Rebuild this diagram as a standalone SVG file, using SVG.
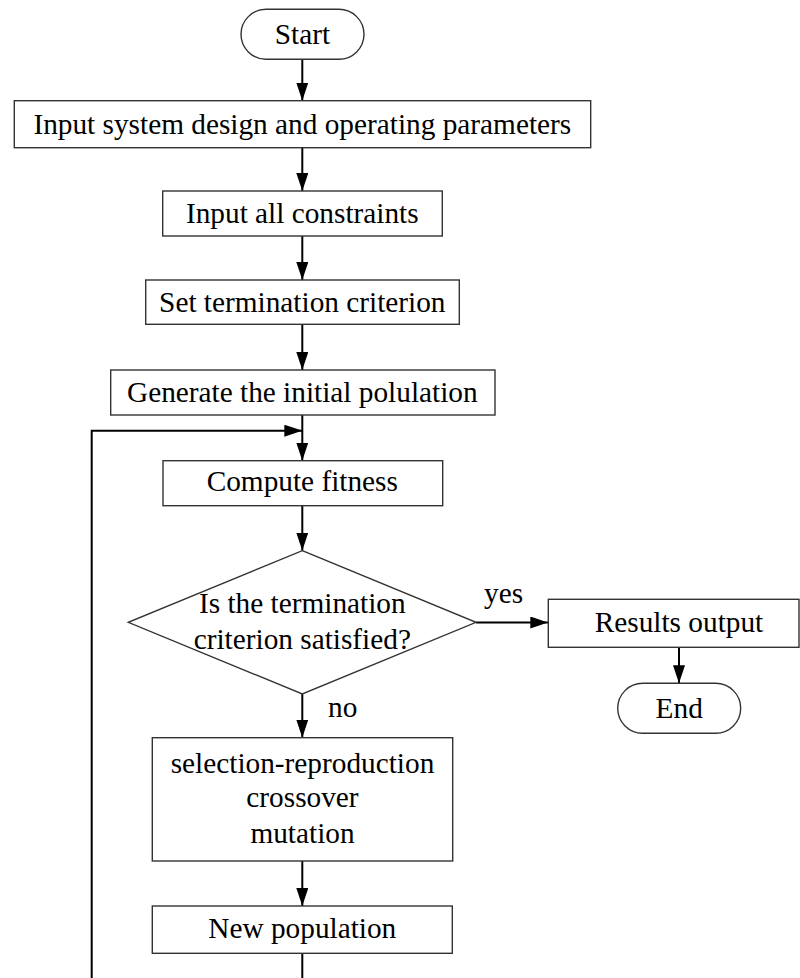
<svg xmlns="http://www.w3.org/2000/svg" width="800" height="978" viewBox="0 0 800 978">
<defs>
<style>
.box{fill:#fff;stroke:#333;stroke-width:1.4}
.t{font-family:"Liberation Serif","Times New Roman",serif;font-size:29.3px;fill:#000;text-anchor:middle}
.l{font-family:"Liberation Serif","Times New Roman",serif;font-size:29.3px;fill:#000}
.c{fill:none;stroke:#000;stroke-width:2}
</style>
<marker id="ah" markerUnits="userSpaceOnUse" markerWidth="18" markerHeight="12" refX="18" refY="6" orient="auto">
<path d="M0,0 L18,6 L0,12 z" fill="#000"/>
</marker>
</defs>
<rect width="800" height="978" fill="#fff"/>
<g id="connectors">
<line class="c" x1="302.3" y1="59.3" x2="302.3" y2="100.7" marker-end="url(#ah)"/>
<line class="c" x1="302.3" y1="147.7" x2="302.3" y2="191" marker-end="url(#ah)"/>
<line class="c" x1="302.3" y1="236" x2="302.3" y2="280" marker-end="url(#ah)"/>
<line class="c" x1="302.3" y1="324.3" x2="302.3" y2="370" marker-end="url(#ah)"/>
<line class="c" x1="302.3" y1="415" x2="302.3" y2="460.7" marker-end="url(#ah)"/>
<line class="c" x1="302.3" y1="505.7" x2="302.3" y2="550.7" marker-end="url(#ah)"/>
<line class="c" x1="476" y1="622.5" x2="548.3" y2="622.5" marker-end="url(#ah)"/>
<line class="c" x1="679" y1="647.3" x2="679" y2="683.3" marker-end="url(#ah)"/>
<line class="c" x1="302.3" y1="694" x2="302.3" y2="737.7" marker-end="url(#ah)"/>
<line class="c" x1="302.3" y1="861" x2="302.3" y2="906" marker-end="url(#ah)"/>
<polyline class="c" points="302.3,953.3 302.3,995 91.7,995 91.7,430.7 302.3,430.7" marker-end="url(#ah)"/>
<text class="l" x="484" y="603.3">yes</text>
<text class="l" x="328" y="716.7">no</text>
</g>
<g id="start">
<rect class="box" x="241" y="9.3" width="123" height="50" rx="25" ry="25"/>
<text class="t" x="302.5" y="43.5">Start</text>
</g>
<g id="input-params">
<rect class="box" x="14.3" y="100.7" width="576.4" height="47"/>
<text class="t" x="302.3" y="133.5">Input system design and operating parameters</text>
</g>
<g id="input-constraints">
<rect class="box" x="162.7" y="191" width="279.6" height="45"/>
<text class="t" x="302.3" y="223">Input all constraints</text>
</g>
<g id="set-termination">
<rect class="box" x="145.7" y="280" width="313.6" height="44.3"/>
<text class="t" x="302.3" y="311.5">Set termination criterion</text>
</g>
<g id="generate">
<rect class="box" x="110.7" y="370" width="384.3" height="45"/>
<text class="t" x="302.3" y="401.7">Generate the initial polulation</text>
</g>
<g id="compute-fitness">
<rect class="box" x="163" y="460.7" width="279.7" height="45"/>
<text class="t" x="302.3" y="491">Compute fitness</text>
</g>
<g id="decision">
<polygon class="box" points="302.3,550.7 476,622.3 302.3,694 128.3,622.3"/>
<text class="t" x="302.3" y="613.3">Is the termination</text>
<text class="t" x="302.3" y="649.3">criterion satisfied?</text>
</g>
<g id="results">
<rect class="box" x="548.3" y="599.3" width="250.7" height="48"/>
<text class="t" x="679" y="632">Results output</text>
</g>
<g id="end">
<rect class="box" x="617.7" y="683.3" width="123" height="50" rx="25" ry="25"/>
<text class="t" x="679.2" y="717.5">End</text>
</g>
<g id="operators">
<rect class="box" x="152.3" y="737.7" width="300.4" height="123.3"/>
<text class="t" x="302.5" y="772.7">selection-reproduction</text>
<text class="t" x="302.5" y="807.3">crossover</text>
<text class="t" x="302.5" y="843.3">mutation</text>
</g>
<g id="new-population">
<rect class="box" x="152.3" y="906" width="300" height="47.3"/>
<text class="t" x="302.3" y="938.3">New population</text>
</g>
</svg>
